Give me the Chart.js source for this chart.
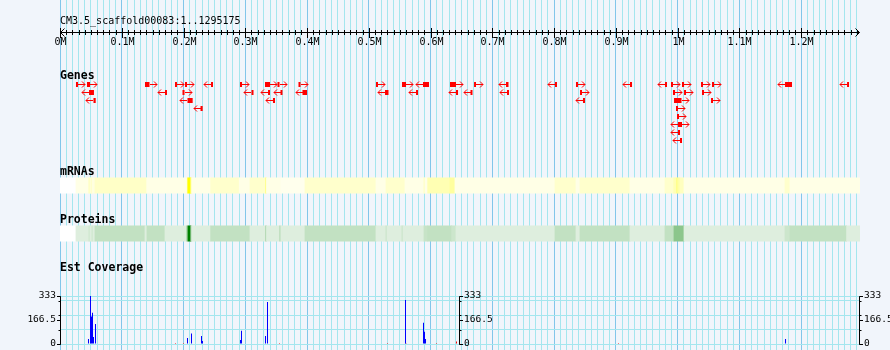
<!DOCTYPE html>
<html>
<head>
<meta charset="utf-8">
<script src="https://cdn.jsdelivr.net/npm/chart.js@4.4.0/dist/chart.umd.min.js"></script>
<style>
    body { margin: 0; background: #f1f5fb; }
    #wrap { position: relative; width: 890px; height: 350px; background: #f1f5fb; overflow: hidden; }
    #wrap canvas { position: absolute; left: 0; top: 0; }
</style>
</head>
<body>
<div id="wrap">
    <canvas id="gridChart" width="890" height="350"></canvas>
    <canvas id="geneChart" width="890" height="350"></canvas>
    <canvas id="densityChart" width="890" height="350"></canvas>
    <canvas id="coverageChart" width="890" height="350"></canvas>
</div>
<script>
// overview.js - scaffold overview tracks (ruler, genes, mRNA/protein density, EST coverage)

const SEQ_LENGTH = 1295175;
const rulerTitle = 'CM3.5_scaffold00083:1..1295175';
const rulerMajor = [0, 100000, 200000, 300000, 400000, 500000, 600000, 700000, 800000, 900000, 1000000, 1100000, 1200000];
const rulerLabels = ['0M', '0.1M', '0.2M', '0.3M', '0.4M', '0.5M', '0.6M', '0.7M', '0.8M', '0.9M', '1M', '1.1M', '1.2M'];
const RULER_MINOR_STEP = 10000;
const trackNames = ['Genes', 'mRNAs', 'Proteins', 'Est Coverage'];

// Genes (bp), strand +1 / -1, bumped row
const geneStart = [
    25900, 43700, 137600, 186200, 202400, 244500, 291400, 331900, 352100, 386100,
    511600, 553700, 587700, 631400, 670300, 722100, 801400, 835400, 922800, 979500,
    989200, 1007000, 1037800, 1055600, 1173800, 1274200,
    47000, 170000, 198300, 310000, 336800, 357000, 392600, 526200, 576400, 641100,
    664600, 723700, 841900, 992400, 1010300, 1039400,
    54200, 206400, 344800, 846700, 994100, 1054000,
    227500, 997300,
    998900,
    1000500, 1003800,
    1000500,
    1003800
];
const geneEnd = [
    29100, 48600, 144900, 189400, 205600, 247700, 294700, 340000, 355400, 389400,
    514800, 560200, 597400, 641100, 673500, 726100, 804600, 838600, 926100, 982700,
    992400, 1010300, 1041000, 1058800, 1185100, 1277400,
    55000, 173200, 201600, 313300, 340000, 360200, 399900, 531800, 579600, 644400,
    667800, 726900, 845100, 995700, 1013500, 1042600,
    57800, 214800, 348100, 850000, 1006200, 1057200,
    231000, 1000500,
    1002200,
    1003800, 1007000,
    1003800,
    1007000
];
const geneStrand = [
    1, 1, 1, 1, 1, -1, 1, 1, 1, 1,
    1, 1, -1, 1, 1, -1, -1, 1, -1, -1,
    1, 1, 1, 1, -1, -1,
    -1, -1, 1, -1, -1, -1, -1, -1, -1, -1,
    -1, -1, 1, 1, 1, 1,
    -1, -1, -1, -1, 1, 1,
    -1, 1,
    1,
    -1, 1,
    -1,
    -1
];
const geneRow = [
    0, 0, 0, 0, 0, 0, 0, 0, 0, 0,
    0, 0, 0, 0, 0, 0, 0, 0, 0, 0,
    0, 0, 0, 0, 0, 0,
    1, 1, 1, 1, 1, 1, 1, 1, 1, 1,
    1, 1, 1, 1, 1, 1,
    2, 2, 2, 2, 2, 2,
    3, 3,
    4,
    5, 5,
    6,
    7
];

// mRNA density bins (bin start bp, density 0..1)
const mrnaBinStart = [
    0, 25900, 46950, 48570, 50190, 51810, 56670, 140370, 206100, 207230,
    211600, 213220, 243980, 290280, 307610, 332700, 334350, 357800, 396650, 511600,
    527800, 558560, 589320, 590940, 595300, 631400, 639500, 801400, 835400, 841880,
    922830, 979500, 994070, 995690, 997300, 1000540, 1003780, 1010260, 1173780, 1181870
];
const mrnaDensity = [
    0, 0.1, 0.3, 0.1, 0.25, 0.12, 0.22, 0.1, 0.5, 1.0,
    0.45, 0.1, 0.2, 0.1, 0.2, 0.45, 0.1, 0.07, 0.2, 0.1,
    0.2, 0.1, 0.25, 0.1, 0.3, 0.38, 0.1, 0.2, 0.1, 0.2,
    0.1, 0.2, 0.35, 0.2, 0.45, 0.35, 0.25, 0.1, 0.2, 0.1
];

// protein density bins (bin start bp, density 0..1)
const proteinBinStart = [
    0, 25900, 46950, 48570, 51810, 53430, 56670, 137620, 140850, 169990,
    205100, 207230, 211600, 213220, 243980, 307610, 332700, 334350, 355370, 357800,
    396650, 511600, 527800, 529420, 553700, 555320, 589320, 595300, 634140, 641120,
    801400, 835400, 841880, 922830, 979500, 994070, 1010260, 1173780, 1181870, 1273500
];
const proteinDensity = [
    0, 0.13, 0.2, 0.13, 0.2, 0.13, 0.24, 0.13, 0.24, 0.13,
    0.35, 1.0, 0.4, 0.13, 0.24, 0.13, 0.3, 0.13, 0.25, 0.13,
    0.24, 0.13, 0.22, 0.13, 0.22, 0.13, 0.22, 0.24, 0.2, 0.13,
    0.24, 0.13, 0.24, 0.13, 0.24, 0.45, 0.13, 0.2, 0.24, 0.13
];

// EST coverage (bin centre bp, depth)
const covPos = [
    46140, 49380, 51000, 52620, 54240, 57470, 206420, 212900, 229090, 230710,
    292220, 293840, 332700, 335940, 559360, 588500, 590120, 591740, 1174600
];
const covValue = [
    35, 333, 190, 217, 49, 139, 42, 72, 55, 21,
    28, 92, 55, 291, 305, 148, 85, 35, 35
];
const covLowPos = [187000, 199950, 355370, 530220, 560170, 609560, 641930, 904200];
const covLowValue = [7, 7, 7, 7, 7, 7, 18, 7];
const covMax = 333;
const covLabels = [0, 166.5, 333];
const covAxisAt = [0, SEQ_LENGTH / 2, SEQ_LENGTH];

const MONO = '"DejaVu Sans Mono", monospace';
const MINOR = '#a4e6ee';
const MAJOR = '#82c6ea';
const GENE_RED = '#ff0000';

Chart.defaults.font.family = MONO;

function baseOptions(padding) {
    return {
        responsive: false,
        animation: false,
        events: [],
        layout: { padding: Object.assign({ left: 60, right: 30 }, padding) },
        plugins: { legend: { display: false }, tooltip: { enabled: false } }
    };
}

function seqAxis() {
    return { type: 'linear', min: 0, max: SEQ_LENGTH, offset: false, display: false };
}

function binEnd(starts, i) {
    return i + 1 < starts.length ? starts[i + 1] : SEQ_LENGTH;
}

function yellow(v) {
    return `rgb(255,255,${Math.round(255 * (1 - v))})`;
}

function green(v) {
    const rb = Math.round(255 * (1 - v));
    return `rgb(${rb},${Math.round(255 - 127 * v)},${rb})`;
}

function isMajor(value) {
    return rulerMajor.indexOf(value) !== -1;
}

function trackLabel(ctx, text, x, y) {
    ctx.save();
    ctx.fillStyle = '#000';
    ctx.font = `bold 11.5px ${MONO}`;
    ctx.textBaseline = 'middle';
    ctx.textAlign = 'left';
    ctx.fillText(text, x, y);
    ctx.restore();
}

// Ruler across the top, drawn off the sequence axis ticks
const rulerPlugin = {
    id: 'ruler',
    afterDraw(chart) {
        const ctx = chart.ctx;
        const x = chart.scales.x;
        const left = Math.round(x.getPixelForValue(0)) + 0.5;
        const right = Math.round(x.getPixelForValue(SEQ_LENGTH)) - 0.5;
        const yLine = 32.5;

        ctx.save();
        ctx.fillStyle = '#000';
        ctx.font = `10px ${MONO}`;
        ctx.textBaseline = 'middle';
        ctx.fillText(rulerTitle, left - 0.5, 21);

        ctx.strokeStyle = '#000';
        ctx.lineWidth = 1;
        ctx.beginPath();
        ctx.moveTo(left, yLine);
        ctx.lineTo(right, yLine);
        ctx.moveTo(left + 4, yLine - 4);
        ctx.lineTo(left, yLine);
        ctx.lineTo(left + 4, yLine + 4);
        ctx.moveTo(right - 4, yLine - 4);
        ctx.lineTo(right, yLine);
        ctx.lineTo(right - 4, yLine + 4);
        x.ticks.forEach(t => {
            const px = Math.round(x.getPixelForValue(t.value)) + 0.5;
            const major = isMajor(t.value);
            ctx.moveTo(px, major ? 28 : 30);
            ctx.lineTo(px, major ? 38 : 35);
        });
        ctx.stroke();

        ctx.textAlign = 'center';
        rulerMajor.forEach((v, i) => {
            const px = Math.round(x.getPixelForValue(v)) + 0.5;
            ctx.fillText(rulerLabels[i], px, 42.5);
        });
        ctx.restore();
    }
};

// Background grid: one line per 10 kb, darker every 100 kb
new Chart(document.getElementById('gridChart'), {
    type: 'scatter',
    data: { datasets: [] },
    options: Object.assign(baseOptions({ top: 0, bottom: 0 }), {
        scales: {
            x: {
                type: 'linear',
                min: 0,
                max: SEQ_LENGTH,
                bounds: 'data',
                position: 'bottom',
                afterFit: s => { s.height = 0; },
                afterBuildTicks: s => {
                    const ticks = [];
                    for (let v = 0; v < SEQ_LENGTH; v += RULER_MINOR_STEP) ticks.push({ value: v });
                    s.ticks = ticks;
                },
                border: { display: false },
                grid: {
                    drawTicks: false,
                    lineWidth: 1,
                    color: c => (c.tick && isMajor(c.tick.value)) ? MAJOR : MINOR
                },
                ticks: { display: false, autoSkip: false }
            },
            y: { display: false, min: 0, max: 1 }
        }
    }),
    plugins: [rulerPlugin]
});

// Gene glyphs: body from the bar, arrow + head added by plugin
const geneArrowPlugin = {
    id: 'geneArrows',
    afterDatasetsDraw(chart) {
        const ctx = chart.ctx;
        const meta = chart.getDatasetMeta(0);
        ctx.save();
        ctx.strokeStyle = GENE_RED;
        ctx.lineWidth = 1;
        meta.data.forEach((el, i) => {
            const y = Math.floor(el.y) + 0.5;
            const lo = Math.min(el.x, el.base);
            const hi = Math.max(el.x, el.base);
            ctx.beginPath();
            if (geneStrand[i] > 0) {
                const s = Math.round(hi);
                ctx.moveTo(s, y);
                ctx.lineTo(s + 7, y);
                ctx.moveTo(s + 4, y - 3);
                ctx.lineTo(s + 7, y);
                ctx.lineTo(s + 4, y + 3);
            } else {
                const s = Math.round(lo);
                ctx.moveTo(s, y);
                ctx.lineTo(s - 7, y);
                ctx.moveTo(s - 4, y - 3);
                ctx.lineTo(s - 7, y);
                ctx.lineTo(s - 4, y + 3);
            }
            ctx.stroke();
        });
        ctx.restore();
        trackLabel(ctx, trackNames[0], 60, chart.chartArea.top - 4.5);
    }
};

new Chart(document.getElementById('geneChart'), {
    type: 'bar',
    data: {
        datasets: [{
            label: 'Genes',
            data: geneStart.map((s, i) => ({ x: [s, geneEnd[i]], y: geneRow[i] })),
            backgroundColor: GENE_RED,
            borderWidth: 0,
            barThickness: 5,
            inflateAmount: 0
        }]
    },
    options: Object.assign(baseOptions({ top: 80.5, bottom: 205.5 }), {
        indexAxis: 'y',
        scales: {
            x: seqAxis(),
            y: { type: 'linear', min: -0.5, max: 7.5, reverse: true, offset: false, display: false }
        }
    }),
    plugins: [geneArrowPlugin]
});

// mRNA / protein density bands
const densityLabelPlugin = {
    id: 'densityLabels',
    afterDatasetsDraw(chart) {
        const y = chart.scales.y;
        trackLabel(chart.ctx, trackNames[1], 60, y.getPixelForValue(0) - 13.5);
        trackLabel(chart.ctx, trackNames[2], 60, y.getPixelForValue(1) - 13.5);
    }
};

new Chart(document.getElementById('densityChart'), {
    type: 'bar',
    data: {
        labels: ['mRNAs', 'Proteins'],
        datasets: [
            {
                label: 'mRNAs',
                data: mrnaBinStart.map((s, i) => ({ x: [s, binEnd(mrnaBinStart, i)], y: 'mRNAs' })),
                backgroundColor: c => yellow(mrnaDensity[c.dataIndex])
            },
            {
                label: 'Proteins',
                data: proteinBinStart.map((s, i) => ({ x: [s, binEnd(proteinBinStart, i)], y: 'Proteins' })),
                backgroundColor: c => green(proteinDensity[c.dataIndex])
            }
        ]
    },
    options: Object.assign(baseOptions({ top: 161.5, bottom: 92.5 }), {
        indexAxis: 'y',
        datasets: { bar: { grouped: false, barThickness: 15, borderWidth: 0, inflateAmount: 0.4 } },
        scales: {
            x: seqAxis(),
            y: { type: 'category', offset: true, display: false }
        }
    }),
    plugins: [densityLabelPlugin]
});

// EST coverage with scale bars at left, middle and right
const coverageAxesPlugin = {
    id: 'coverageAxes',
    afterDraw(chart) {
        const ctx = chart.ctx;
        const x = chart.scales.x;
        const y = chart.scales.y;
        const top = Math.round(y.getPixelForValue(covMax)) + 0.5;
        const bottom = Math.round(y.getPixelForValue(0)) + 0.5;

        ctx.save();
        ctx.strokeStyle = '#000';
        ctx.fillStyle = '#000';
        ctx.lineWidth = 1;
        ctx.font = `9.5px ${MONO}`;
        ctx.textBaseline = 'middle';
        covAxisAt.forEach((v, k) => {
            const px = Math.round(x.getPixelForValue(v)) + (k === 0 ? 0.5 : -0.5);
            const dir = k === 0 ? -1 : 1;
            ctx.beginPath();
            ctx.moveTo(px, top);
            ctx.lineTo(px, bottom);
            y.ticks.forEach(t => {
                const py = Math.round(y.getPixelForValue(t.value)) + 0.5;
                ctx.moveTo(px, py);
                ctx.lineTo(px + dir * 2, py);
            });
            covLabels.forEach(val => {
                const py = Math.round(y.getPixelForValue(val)) + 0.5;
                ctx.moveTo(px, py);
                ctx.lineTo(px + dir * 3.5, py);
            });
            ctx.stroke();
            ctx.textAlign = k === 0 ? 'right' : 'left';
            covLabels.forEach(val => {
                ctx.fillText(String(val), px + dir * 4.5, y.getPixelForValue(val));
            });
        });
        ctx.restore();
        trackLabel(ctx, trackNames[3], 60, chart.chartArea.top - 28);
    }
};

new Chart(document.getElementById('coverageChart'), {
    type: 'bar',
    data: {
        datasets: [
            {
                label: 'Est Coverage',
                data: covPos.map((p, i) => ({ x: p, y: covValue[i] })),
                backgroundColor: '#0000ff'
            },
            {
                label: 'low',
                data: covLowPos.map((p, i) => ({ x: p, y: covLowValue[i] })),
                backgroundColor: '#ff0000'
            }
        ]
    },
    options: Object.assign(baseOptions({ top: 296, bottom: 6 }), {
        datasets: { bar: { grouped: false, barThickness: 1, borderWidth: 0, inflateAmount: 0 } },
        scales: {
            x: seqAxis(),
            y: {
                type: 'linear',
                min: 0,
                max: covMax,
                bounds: 'data',
                position: 'left',
                afterFit: s => { s.width = 0; },
                border: { display: false },
                grid: { drawTicks: false, color: MINOR },
                ticks: { display: false, stepSize: 100, includeBounds: true }
            }
        }
    }),
    plugins: [coverageAxesPlugin]
});
</script>
</body>
</html>
